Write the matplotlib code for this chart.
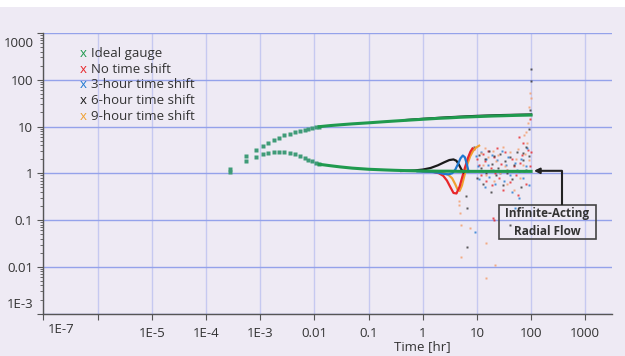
import matplotlib
matplotlib.use("Agg")
import matplotlib.pyplot as plt
from matplotlib.patches import Rectangle
from matplotlib.transforms import blended_transform_factory

plt.rcParams['font.family'] = ['Open Sans', 'DejaVu Sans']

BG = '#EEEAF4'
C_GREEN = '#1F9A4E'
C_GREEN_DOT = '#3F9B78'
C_RED = '#E8262A'
C_BLUE = '#1F78D0'
C_BLACK = '#1A1A1A'
C_ORANGE = '#F0A030'
C_ORANGE_DOT = '#F3A070'
TXT = '#333333'

# ---------------- data ----------------
# Ideal gauge: early sparse points (pressure change and derivative)
early_t = [2.80e-4, 5.55e-4, 8.47e-4, 1.11e-3, 1.41e-3, 1.77e-3, 2.22e-3, 2.79e-3,
           3.50e-3, 4.39e-3, 5.50e-3, 6.72e-3, 7.71e-3, 9.04e-3, 1.07e-2, 1.23e-2]
early_dp = [1.26, 2.31, 3.10, 3.84, 4.38, 5.08, 5.77, 6.50,
            7.03, 7.53, 8.03, 8.56, 8.85, 9.17, 9.63, 9.93]
early_der = [1.07, 1.81, 2.23, 2.55, 2.71, 2.81, 2.90, 2.86,
             2.71, 2.55, 2.31, 2.12, 1.95, 1.81, 1.66, 1.56]

# Ideal gauge: continuous part
ideal_t = [0.0123, 0.02, 0.03, 0.05, 0.1, 0.2, 0.3, 0.5, 1, 2, 3, 5, 10, 20, 30, 50, 100]
ideal_dp = [9.93, 10.5, 10.9, 11.4, 12.0, 12.7, 13.1, 13.6, 14.3, 15.0, 15.3, 15.8, 16.3, 16.8, 17.0, 17.3, 17.6]
ideal_der = [1.56, 1.45, 1.37, 1.29, 1.22, 1.18, 1.16, 1.14, 1.12, 1.11, 1.11, 1.10, 1.10, 1.10, 1.10, 1.10, 1.10]

# 6-hour shift pressure change (visible slightly above green)
black_dp_t = [0.5, 1, 3, 10, 30, 100]
black_dp = [13.8, 14.6, 15.8, 16.9, 17.6, 18.1]

# Derivative curves of time-shifted gauges (before scatter)
red_t = [1, 1.5, 2, 2.4, 2.8, 3.2, 3.7, 4.2, 4.8, 5.4, 6.0, 6.8, 7.6, 8.3]
red_v = [1.11, 1.09, 1.0, 0.88, 0.7, 0.52, 0.38, 0.37, 0.52, 0.85, 1.3, 2.1, 2.9, 3.4]

blue_t = [0.8, 1.5, 2, 2.5, 3, 3.5, 4, 4.5, 5, 5.5, 6, 6.5, 7]
blue_v = [1.1, 1.07, 1.02, 0.97, 0.95, 1.0, 1.2, 1.6, 2.1, 2.4, 2.2, 1.6, 1.1]

black_t = [0.4, 0.7, 1.0, 1.4, 1.9, 2.5, 3.1, 3.7, 4.2, 4.7, 5.2, 5.7]
black_v = [1.12, 1.15, 1.2, 1.3, 1.48, 1.72, 1.92, 1.98, 1.85, 1.5, 1.2, 1.05]

orange_t = [1, 1.5, 2, 2.5, 3, 3.5, 4.0, 4.4, 4.8, 5.3, 5.9, 6.6, 7.5, 8.5, 9.5, 11]
orange_v = [1.12, 1.1, 1.06, 1.0, 0.92, 0.78, 0.58, 0.45, 0.42, 0.55, 0.9, 1.5, 2.3, 3.0, 3.5, 3.9]

# Scattered derivative points
red_st = [9, 10, 11, 12, 13, 14, 15, 16, 18, 19, 21, 22, 24, 26, 28, 30, 33, 36, 40, 44,
          48, 52, 58, 62, 68, 75, 80, 88, 95, 20, 21, 100, 97, 60, 70]
red_sv = [3.3, 2.0, 1.5, 0.9, 2.6, 1.8, 0.7, 3.0, 1.3, 0.55, 2.2, 1.0, 3.4, 0.8, 1.6, 0.45, 2.8, 1.2, 0.65, 2.0,
          1.4, 0.9, 0.35, 1.7, 2.5, 1.1, 0.6, 3.2, 1.4, 0.11, 0.10, 2.9, 14.3, 6.0, 4.5]

blue_st = [9.5, 10.5, 11, 12, 13, 14, 15, 16, 17, 19, 20, 22, 24, 27, 29, 31, 34, 37, 41, 45,
           50, 55, 60, 65, 72, 80, 90, 9.4, 50, 85]
blue_sv = [2.4, 1.4, 0.75, 2.8, 1.1, 0.5, 2.0, 1.5, 0.85, 2.5, 1.2, 0.6, 1.9, 1.0, 3.0, 0.7, 1.5, 2.2, 0.9, 0.4,
           1.7, 1.2, 0.3, 2.0, 0.8, 1.4, 0.55, 0.056, 0.18, 3.5]

black_st = [9, 10, 11, 12, 13, 14, 15, 17, 18, 19, 21, 23, 25, 27, 30, 33, 36, 40, 44, 48,
            55, 60, 66, 72, 80, 90, 6.4, 6.6, 6.5, 40, 100, 98, 95, 90, 80, 70]
black_sv = [3.6, 0.8, 2.5, 1.3, 0.6, 2.0, 1.0, 3.0, 0.4, 1.6, 2.3, 0.9, 1.3, 2.6, 0.55, 1.8, 1.0, 2.2, 0.75, 1.5,
            2.8, 1.1, 0.5, 1.9, 1.2, 2.4, 0.33, 0.18, 0.027, 0.078, 167, 95, 22.6, 9.0, 3.6, 2.7]

orange_st = [12, 13, 14, 15, 16, 18, 20, 21, 23, 25, 27, 30, 33, 36, 40, 44, 48, 52, 58, 63,
             70, 78, 85, 92, 4.6, 4.7, 4.85, 5.0, 7.5, 14.5, 5.0, 21.7, 14.7, 97, 98, 92, 88, 82, 75]
orange_sv = [2.7, 1.5, 3.5, 0.9, 2.2, 1.2, 3.0, 0.7, 1.8, 2.5, 1.0, 3.6, 1.4, 0.6, 2.8, 1.1, 0.45, 2.0, 3.3, 0.8,
             1.5, 2.6, 4.5, 1.9, 0.25, 0.21, 0.14, 0.078, 0.068, 0.033, 0.016, 0.011, 0.0059, 51, 40, 25.8, 12, 7.7, 6.6]

x_ticks = [1e-7, 1e-6, 1e-5, 1e-4, 1e-3, 1e-2, 1e-1, 1, 10, 100, 1000]
x_labels = ['', '', '1E-5', '1E-4', '1E-3', '0.01', '0.1', '1', '10', '100', '1000']
y_ticks = [1e-3, 1e-2, 1e-1, 1, 10, 100, 1000]
y_labels = ['', '0.01', '0.1', '1', '10', '100', '']

legend_names = ['Ideal gauge', 'No time shift', '3-hour time shift', '6-hour time shift', '9-hour time shift']
legend_colors = [C_GREEN, C_RED, C_BLUE, C_BLACK, C_ORANGE]

# ---------------- figure ----------------
fig = plt.figure(figsize=(6.25, 3.56), dpi=100, facecolor=BG)
fig.patches.append(Rectangle((0, 1 - 7 / 356), 1, 7 / 356, transform=fig.transFigure,
                             facecolor='white', edgecolor='none', zorder=-1))
ax = fig.add_axes([43.4 / 625, 42.4 / 356, 568.4 / 625, 280.6 / 356])
ax.set_facecolor(BG)
ax.set_xscale('log')
ax.set_yscale('log')
ax.set_xlim(1e-7, 10 ** 3.49)
ax.set_ylim(1e-3, 1e3)

for yt in y_ticks:
    ax.axhline(yt, color='#94A2EA', lw=1.0, zorder=0.5)
for xt in x_ticks:
    ax.axvline(xt, color='#C6C9F0', lw=1.0, zorder=0.4)

ax.set_xticks(x_ticks)
ax.set_xticklabels(x_labels)
ax.set_yticks(y_ticks)
ax.set_yticklabels(y_labels)
ax.tick_params(axis='both', which='both', colors='#555555', labelcolor=TXT, labelsize=9.5)
ax.tick_params(axis='both', which='major', length=4, width=0.8)
ax.tick_params(axis='both', which='minor', length=2.5, width=0.6)
ax.tick_params(axis='x', which='both', pad=6)
for s in ['top', 'right']:
    ax.spines[s].set_visible(False)
for s in ['left', 'bottom']:
    ax.spines[s].set_color('#555555')
    ax.spines[s].set_linewidth(1.0)

ax.annotate('1E-7', xy=(0, 0), xycoords='axes fraction', xytext=(3, -7), textcoords='offset points',
            ha='left', va='top', fontsize=9.5, color=TXT)
ax.annotate('1000', xy=(0, 1), xycoords='axes fraction', xytext=(-7, -3), textcoords='offset points',
            ha='right', va='top', fontsize=9.5, color=TXT)
ax.annotate('1E-3', xy=(0, 0), xycoords='axes fraction', xytext=(-7, 2), textcoords='offset points',
            ha='right', va='bottom', fontsize=9.5, color=TXT)

trans = blended_transform_factory(ax.transData, ax.transAxes)
ax.text(1, -0.118, 'Time [hr]', transform=trans, ha='center', va='center', fontsize=9.5, color=TXT)

# scatter points
ms = 2.0
ax.plot(red_st, red_sv, 's', ms=ms, color=C_RED, alpha=0.8, mec='none', zorder=3)
ax.plot(blue_st, blue_sv, 's', ms=ms, color=C_BLUE, alpha=0.8, mec='none', zorder=3)
ax.plot(black_st, black_sv, 's', ms=ms, color='#333333', alpha=0.8, mec='none', zorder=3)
ax.plot(orange_st, orange_sv, 's', ms=ms, color=C_ORANGE_DOT, alpha=0.85, mec='none', zorder=3)

# curves
ax.plot(black_dp_t, black_dp, '-', color=C_BLACK, lw=1.6, zorder=4)
ax.plot(orange_t, orange_v, '-', color=C_ORANGE, lw=1.6, zorder=4)
ax.plot(red_t, red_v, '-', color=C_RED, lw=1.6, zorder=4)
ax.plot(black_t, black_v, '-', color=C_BLACK, lw=1.6, zorder=4)
ax.plot(blue_t, blue_v, '-', color=C_BLUE, lw=1.6, zorder=4)

ax.plot(early_t, early_dp, 's', ms=2.2, color=C_GREEN_DOT, mec='none', zorder=5)
ax.plot(early_t, early_der, 's', ms=2.2, color=C_GREEN_DOT, mec='none', zorder=5)
ax.plot(ideal_t, ideal_dp, '-', color=C_GREEN, lw=2.2, zorder=5)
ax.plot(ideal_t, ideal_der, '-', color=C_GREEN, lw=2.2, zorder=5)

leg_y = [0.9277, 0.8717, 0.8158, 0.7587, 0.7017]
for name, col, yy in zip(legend_names, legend_colors, leg_y):
    ax.text(0.0697, yy, 'x', transform=ax.transAxes, ha='center', va='center', fontsize=9.5, color=col)
    ax.text(0.0829, yy, name, transform=ax.transAxes, ha='left', va='center', fontsize=9.5, color=TXT)

ax.add_patch(Rectangle((25.8, 0.0388), 1570 - 25.8, 0.207 - 0.0388, facecolor='none',
                       edgecolor='#444444', lw=1.2, zorder=6))
ax.text(201, 0.0896, 'Infinite-Acting\nRadial Flow', ha='center', va='center', fontsize=8.5,
        fontweight='bold', color=TXT, linespacing=1.45, zorder=7)
ax.plot([370, 370], [0.207, 1.13], '-', color='#222222', lw=1.5, zorder=6, solid_capstyle='butt')
ax.annotate('', xy=(113, 1.13), xytext=(372, 1.13),
            arrowprops=dict(arrowstyle='-|>', color='#222222', lw=1.5, mutation_scale=8,
                            shrinkA=0, shrinkB=0), zorder=6)

fig.savefig('out.png', dpi=100, facecolor=BG)
